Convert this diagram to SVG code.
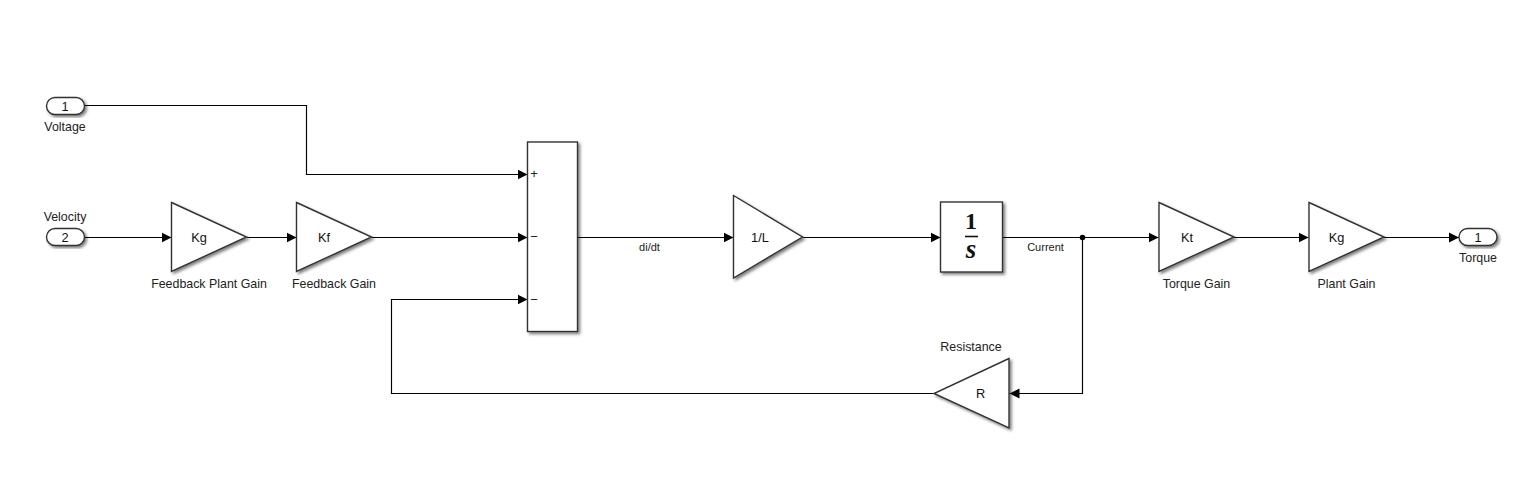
<svg xmlns="http://www.w3.org/2000/svg" width="1520" height="492" viewBox="0 0 1520 492">
<style>
text{font-family:"Liberation Sans",Arial,sans-serif;font-size:12.4px;fill:#222;text-anchor:middle}
.b{fill:#fff;stroke:#333;stroke-width:1.4;filter:url(#sh)}
.w{fill:none;stroke:#000;stroke-width:1.15}
.a{marker-end:url(#arr)}
.s{font-size:11px}
.v{font-size:12.8px;fill:#111}
.m{font-size:13px}
.t1{font-family:"Liberation Serif",serif;font-weight:bold;fill:#111;font-size:24px}
.t2{font-family:"Liberation Serif",serif;font-weight:bold;font-style:italic;fill:#111;font-size:27px}
</style>
<defs>
<filter id="sh" x="-15%" y="-15%" width="135%" height="135%"><feDropShadow dx="2" dy="2" stdDeviation="1.4" flood-color="#000" flood-opacity="0.5"/></filter>
<marker id="arr" markerUnits="userSpaceOnUse" markerWidth="12" markerHeight="12" refX="10" refY="6" orient="auto"><path d="M0,1 L10,6 L0,11 Z" fill="#000"/></marker>
</defs>
<rect width="1520" height="492" fill="#fff"/>
<g id="connectors">
<path class="w a" d="M84.5,105.5H306.5V174.5H527.5"/>
<path class="w a" d="M84.5,237.5H171.500"/>
<path class="w a" d="M247,237.5H296.500"/>
<path class="w a" d="M372,237.5H527.5"/>
<path class="w a" d="M934,393.5H391.5V299.5H527.5"/>
<path class="w a" d="M578,237.5H733.5"/>
<path class="w a" d="M803,237.5H940.5"/>
<path class="w a" d="M1003,237.5H1158.500"/>
<path class="w a" d="M1082.5,237.5V393.5H1009.500"/>
<path class="w a" d="M1234,237.5H1308.500"/>
<path class="w a" d="M1384,237.5H1459"/>
<circle cx="1082.5" cy="237.5" r="2.8" fill="#000"/>
<text class="s" x="649.5" y="250.5">di/dt</text>
<text class="s" x="1045.5" y="250.5">Current</text>
</g>
<g id="voltage"><rect class="b" x="46.5" y="97.5" width="38" height="17" rx="8.5"/><text class="v" x="65" y="110.5">1</text><text x="65" y="131">Voltage</text></g>
<g id="velocity"><rect class="b" x="46.5" y="228.5" width="38" height="17" rx="8.5"/><text class="v" x="65" y="242">2</text><text x="65" y="221">Velocity</text></g>
<g id="feedback-plant-gain"><path class="b" d="M171.5,202.500L246.5,237L171.5,271.5Z"/><text class="v" x="199" y="241.5">Kg</text><text x="209" y="288">Feedback Plant Gain</text></g>
<g id="feedback-gain"><path class="b" d="M296.5,202.500L371.5,237L296.5,271.5Z"/><text class="v" x="324" y="241.5">Kf</text><text x="334" y="288">Feedback Gain</text></g>
<g id="sum"><rect class="b" x="527.5" y="142" width="50" height="189.500"/><text class="m" x="534" y="178">+</text><text class="m" x="534" y="241">−</text><text class="m" x="534" y="304">−</text></g>
<g id="inverse-l"><path class="b" d="M733.5,195.5L802.5,237L733.5,278Z"/><text class="v" x="760" y="241.5">1/L</text></g>
<g id="integrator"><rect class="b" x="940.5" y="202" width="62" height="70"/><path d="M965,236.500H978" stroke="#111" stroke-width="1.6"/><text class="t1" x="971" y="229">1</text><text class="t2" x="971" y="258">s</text></g>
<g id="torque-gain"><path class="b" d="M1159,202.500L1234,237L1159,271.5Z"/><text class="v" x="1187" y="241.5">Kt</text><text x="1196.500" y="288">Torque Gain</text></g>
<g id="plant-gain"><path class="b" d="M1309,202.500L1384,237L1309,271.5Z"/><text class="v" x="1336.500" y="241.5">Kg</text><text x="1346.500" y="288">Plant Gain</text></g>
<g id="resistance"><path class="b" d="M1009,358.500L934,393.500L1009,428Z"/><text class="v" x="980.500" y="398">R</text><text x="971" y="351">Resistance</text></g>
<g id="torque"><rect class="b" x="1459" y="228.500" width="38" height="17" rx="8.500"/><text class="v" x="1478" y="242">1</text><text x="1478" y="262">Torque</text></g>
</svg>
